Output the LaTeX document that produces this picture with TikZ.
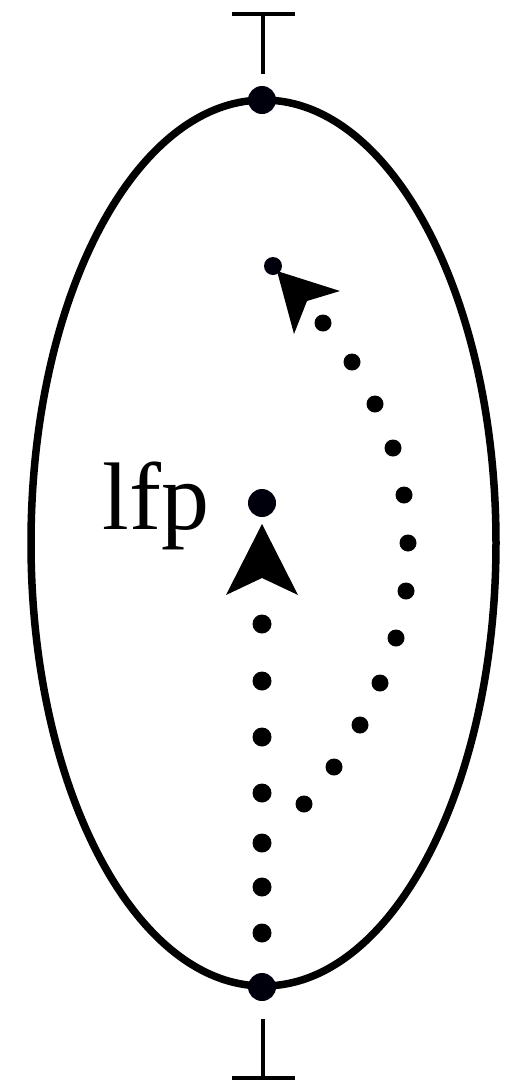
\documentclass[tikz,border=0pt]{standalone}
\usepackage{fontspec}
\setmainfont{Liberation Serif}
\begin{document}
\begin{tikzpicture}[x=1pt,y=-1pt,
  bigdot/.style={circle,fill=black!95!blue,inner sep=0pt,minimum size=28pt},
  barline/.style={line width=4pt},
  arrowfill/.style={fill=black}]
\useasboundingbox (0,0) rectangle (512,1082);
% ellipse
\draw[line width=7.5pt] (263.5,543) ellipse [x radius=232.5, y radius=443];
% top and bottom symbols
\coordinate (tbarl) at (232,14);
\coordinate (tbarr) at (295,14);
\coordinate (tbarm) at (263,14);
\coordinate (tbarb) at (263,74);
\draw[barline] (tbarl) -- (tbarr);
\draw[barline] (tbarm) -- (tbarb);
\coordinate (bbarl) at (232,1078);
\coordinate (bbarr) at (295,1078);
\coordinate (bbarm) at (263,1078);
\coordinate (bbart) at (263,1019);
\draw[barline] (bbarl) -- (bbarr);
\draw[barline] (bbarm) -- (bbart);
% main nodes
\node[bigdot] (top) at (262,100) {};
\node[bigdot] (bot) at (262,987) {};
\node[bigdot] (lfp) at (262,503) {};
\node[font=\fontsize{96}{96}\selectfont,anchor=base east] (lfplabel) at (213,529) {lfp};
\node[circle,fill=black!95!blue,inner sep=0pt,minimum size=18pt] (end) at (273,266) {};
% straight dotted path
\foreach \yy in {624,681,737,793,843,887,933}
  \fill (262,\yy) circle (9.5);
\fill[arrowfill] (262,524) -- (298,595) -- (262,578) -- (226,595) -- cycle;
% curved dotted path
\foreach \xx/\yy in {323/323,352/362,375/404,393/448,404/495,408/543,406/591,396/638,380/683,360/725,334/767,304/804}
  \fill (\xx,\yy) circle (8.5);
\fill[arrowfill] (277,271) -- (340,291) -- (307,301) -- (294,334) -- cycle;
\end{tikzpicture}
\end{document}
